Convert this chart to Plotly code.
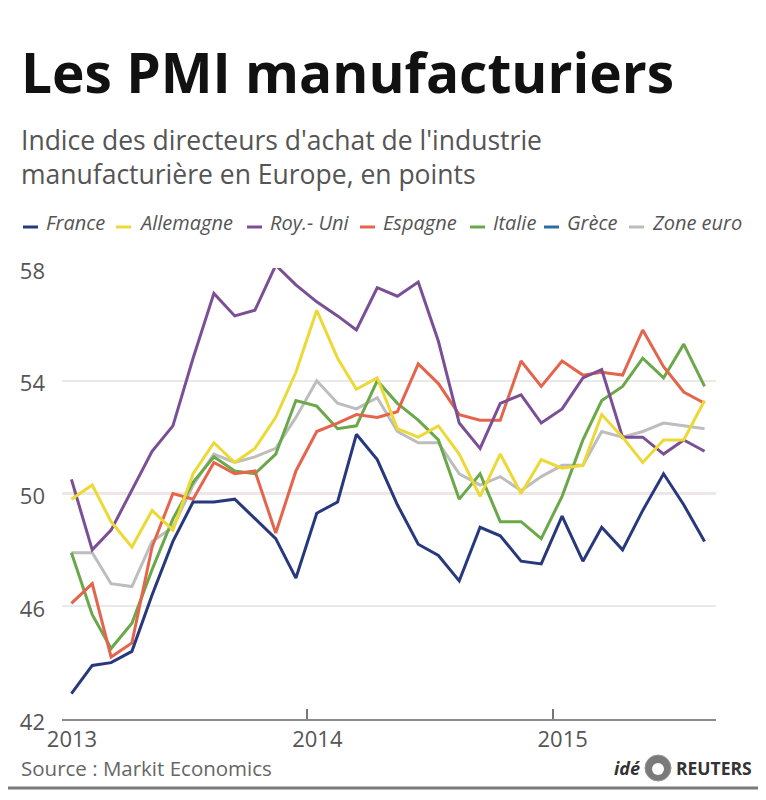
import pandas as pd
import plotly.graph_objects as go

# ---------------- data (monthly PMI, Jan 2013 - Aug 2015) ----------------
months = pd.date_range("2013-01-01", periods=32, freq="MS") + pd.Timedelta(days=14)

france = [42.9, 43.9, 44.0, 44.4, 46.4, 48.3, 49.7, 49.7, 49.8, 49.1, 48.4, 47.0,
          49.3, 49.7, 52.1, 51.2, 49.6, 48.2, 47.8, 46.9, 48.8, 48.5, 47.6, 47.5,
          49.2, 47.6, 48.8, 48.0, 49.4, 50.7, 49.6, 48.3]
allemagne = [49.8, 50.3, 49.0, 48.1, 49.4, 48.7, 50.7, 51.8, 51.1, 51.6, 52.7, 54.3,
             56.5, 54.8, 53.7, 54.1, 52.3, 52.0, 52.4, 51.4, 49.9, 51.4, 50.0, 51.2,
             50.9, 51.0, 52.8, 52.0, 51.1, 51.9, 51.9, 53.3]
roy_uni = [50.5, 48.0, 48.7, 50.1, 51.5, 52.4, 54.8, 57.1, 56.3, 56.5, 58.1, 57.4,
           56.8, 56.3, 55.8, 57.3, 57.0, 57.5, 55.4, 52.5, 51.6, 53.2, 53.5, 52.5,
           53.0, 54.1, 54.4, 52.0, 52.0, 51.4, 51.9, 51.5]
espagne = [46.1, 46.8, 44.2, 44.7, 48.1, 50.0, 49.8, 51.1, 50.7, 50.8, 48.6, 50.8,
           52.2, 52.5, 52.8, 52.7, 52.9, 54.6, 53.9, 52.8, 52.6, 52.6, 54.7, 53.8,
           54.7, 54.2, 54.3, 54.2, 55.8, 54.5, 53.6, 53.2]
italie = [47.9, 45.7, 44.5, 45.4, 47.3, 49.1, 50.4, 51.3, 50.8, 50.7, 51.4, 53.3,
          53.1, 52.3, 52.4, 54.0, 53.2, 52.6, 51.9, 49.8, 50.7, 49.0, 49.0, 48.4,
          49.9, 51.9, 53.3, 53.8, 54.8, 54.1, 55.3, 53.8]
grece = []  # listed in the legend, no line visible in the chart
zone_euro = [47.9, 47.9, 46.8, 46.7, 48.3, 48.8, 50.3, 51.4, 51.1, 51.3, 51.6, 52.7,
             54.0, 53.2, 53.0, 53.4, 52.2, 51.8, 51.8, 50.7, 50.3, 50.6, 50.1, 50.6,
             51.0, 51.0, 52.2, 52.0, 52.2, 52.5, 52.4, 52.3]

series_names = ["France", "Allemagne", "Roy.- Uni", "Espagne", "Italie", "Grèce", "Zone euro"]
series_values = [france, allemagne, roy_uni, espagne, italie, grece, zone_euro]
series_colors = ["#27397c", "#ecd936", "#7b4f95", "#e5644c", "#6aa84a", "#2e6da4", "#bdbdbd"]
draw_order = [6, 5, 4, 3, 2, 1, 0]  # bottom -> top

year_ticks = ["2013-01-01", "2014-01-01", "2015-01-01"]
year_labels = ["2013", "2014", "2015"]
y_ticks = [42, 46, 50, 54, 58]
threshold = 50

# ---------------- geometry ----------------
# The html page adds an 8px body margin, so the figure is a bit smaller and
# every layout position below is given in page pixels.
OFF = 8
W, H = 766 - OFF, 800 - OFF
PX0, PX1, PY0, PY1 = 62, 716, 268, 719          # plot area in page pixels
L, R = PX0 - OFF, W - (PX1 - OFF)
T, B = PY0 - OFF, H - (PY1 - OFF)
PW, PH = PX1 - PX0, PY1 - PY0


def X(px):
    return (px - PX0) / PW


def Y(py):
    return (PY1 - py) / PH


FONT = "Open Sans"
fig = go.Figure()
for k in draw_order:
    vals = series_values[k]
    fig.add_trace(go.Scatter(
        x=list(months[:len(vals)]), y=vals, mode="lines", name=series_names[k],
        line=dict(color=series_colors[k], width=3), showlegend=False,
        hoverinfo="x+y+name"))

shapes = []
annotations = []

# threshold line at 50
shapes.append(dict(type="line", xref="paper", x0=0, x1=1, yref="y", y0=threshold, y1=threshold,
                   line=dict(color="#efc3c6", width=2), layer="below"))
# frame lines
shapes.append(dict(type="line", xref="paper", x0=X(0), x1=X(770), yref="paper", y0=Y(6), y1=Y(6),
                   line=dict(color="#707070", width=3)))
shapes.append(dict(type="line", xref="paper", x0=X(0), x1=X(770), yref="paper", y0=Y(788), y1=Y(788),
                   line=dict(color="#7a7a7a", width=3)))

# title & subtitle
annotations.append(dict(text="<b>Les PMI manufacturiers</b>", x=X(19), y=Y(71), xref="paper", yref="paper",
                        xanchor="left", yanchor="middle", showarrow=False,
                        font=dict(family=FONT, size=55, color="#111111")))
annotations.append(dict(text="Indice des directeurs d'achat de l'industrie<br>manufacturière en Europe, en points",
                        x=X(19), y=Y(157), xref="paper", yref="paper", xanchor="left", yanchor="middle",
                        align="left", showarrow=False,
                        font=dict(family=FONT, size=26.5, color="#555555")))

# custom legend
legend_text_x = [46, 139, 270, 383, 493, 567, 652]
for name, color, tx in zip(series_names, series_colors, legend_text_x):
    shapes.append(dict(type="line", xref="paper", yref="paper", x0=X(tx - 23), x1=X(tx - 8),
                       y0=Y(227), y1=Y(227), line=dict(color=color, width=3)))
    annotations.append(dict(text="<i>" + name + "</i>", x=X(tx - 2), y=Y(223), xref="paper", yref="paper",
                            xanchor="left", yanchor="middle", showarrow=False,
                            font=dict(family=FONT, size=20, color="#555555")))

# source & logo
annotations.append(dict(text="Source : Markit Economics", x=X(19), y=Y(768), xref="paper", yref="paper",
                        xanchor="left", yanchor="middle", showarrow=False,
                        font=dict(family=FONT, size=20.5, color="#666666")))
annotations.append(dict(text="<b><i>idé</i></b>", x=X(642), y=Y(768), xref="paper", yref="paper",
                        xanchor="right", yanchor="middle", showarrow=False,
                        font=dict(family=FONT, size=18, color="#333333")))
annotations.append(dict(text="<b>REUTERS</b>", x=X(674), y=Y(768), xref="paper", yref="paper",
                        xanchor="left", yanchor="middle", showarrow=False,
                        font=dict(family=FONT, size=17.5, color="#333333")))
shapes.append(dict(type="circle", xref="paper", yref="paper", x0=X(645), x1=X(671), y0=Y(781), y1=Y(755),
                   fillcolor="#7a7a7a", line=dict(color="#999999", width=1)))
shapes.append(dict(type="circle", xref="paper", yref="paper", x0=X(652), x1=X(664), y0=Y(775), y1=Y(763),
                   fillcolor="#ffffff", line=dict(color="#ffffff", width=0)))

fig.update_layout(
    width=W, height=H,
    margin=dict(l=L, r=R, t=T, b=B, pad=0),
    paper_bgcolor="white", plot_bgcolor="white",
    showlegend=False,
    shapes=shapes, annotations=annotations,
    font=dict(family=FONT, color="#555555"),
    xaxis=dict(type="date", range=["2013-01-01", "2015-09-01"],
               tickmode="array", tickvals=year_ticks, ticktext=year_labels,
               ticks="", showgrid=False, zeroline=False,
               showline=True, linecolor="#8a8a8a", linewidth=1.5,
               tickfont=dict(family=FONT, size=22, color="#555555"),
               ticklabelshift=10, ticklabelstandoff=0,
               minor=dict(tickmode="array", tickvals=year_ticks[1:], ticks="inside",
                          ticklen=10, tickwidth=1.5, tickcolor="#777777", showgrid=False),
               fixedrange=True),
    yaxis=dict(range=[42, 58], tickmode="array", tickvals=y_ticks,
               ticks="", showgrid=True, gridcolor="#e9e9e9", gridwidth=1.5,
               zeroline=False, showline=False,
               tickfont=dict(family=FONT, size=22, color="#555555"),
               ticklabelstandoff=16, ticklabelshift=3, fixedrange=True),
)

fig.write_html("out.html")
